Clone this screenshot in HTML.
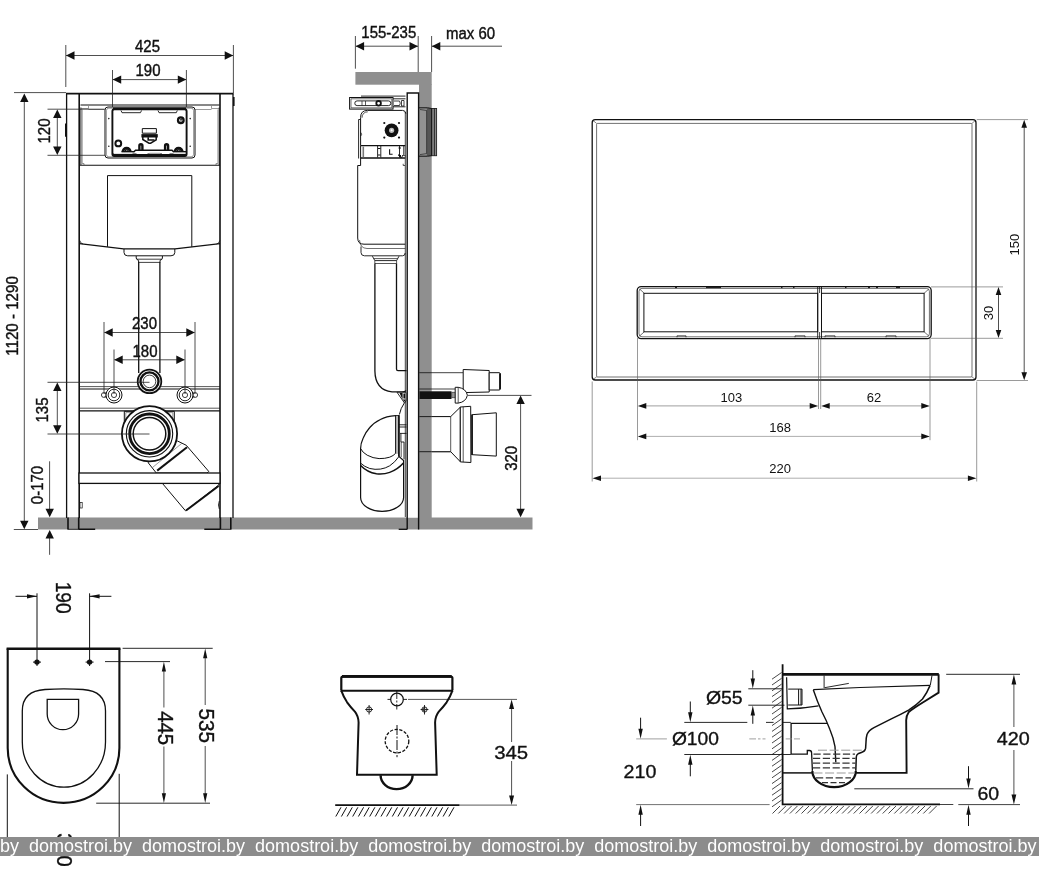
<!DOCTYPE html>
<html>
<head>
<meta charset="utf-8">
<title>Installation drawing</title>
<style>
html,body{margin:0;padding:0;background:#fff;overflow:hidden;}
body{width:1039px;height:869px;position:relative;font-family:"Liberation Sans",sans-serif;}
svg{position:absolute;left:0;top:0;display:block;filter:grayscale(1);}
text{font-family:"Liberation Sans",sans-serif;fill:#111;}
.t15{font-size:15.6px;stroke:#111;stroke-width:0.4px;}
.t13{font-size:13px;}
.bt text{stroke:#111;stroke-width:0.35px;}
.t20{font-size:20px;}
.k{stroke:#111;fill:none;}
.kw{stroke:#111;fill:#fff;}
.thin{stroke:#555;stroke-width:0.6;fill:none;}
.dim{stroke:#222;stroke-width:0.8;fill:none;}
.ar{fill:#111;stroke:none;}
#wm{filter:grayscale(1);position:absolute;left:0;top:837px;width:1039px;height:18.7px;background:#8c8c8c;overflow:hidden;white-space:nowrap;}
#wm span{position:absolute;top:-1.5px;left:0;color:#fff;font-size:18px;line-height:20px;}
</style>
</head>
<body>
<svg width="1039" height="869" viewBox="0 0 1039 869">
<!-- ===================== FRONT VIEW OF FRAME ===================== -->
<g id="front">
  <!-- floor -->
  <rect x="38" y="517.5" width="494.5" height="12" fill="#8f8f8f"/>
  <!-- legs inside floor -->
  <rect x="68" y="517.5" width="10.7" height="12" fill="#929292"/>
  <rect x="220.4" y="517.5" width="10.4" height="12" fill="#929292"/>
  <!-- frame legs -->
  <path class="k" stroke-width="1.3" d="M66.6 93.5V518M233 93.5V518"/>
  <path class="k" stroke-width="1.6" d="M68 517.5V529.3M230.8 517.5V529.3"/>
  <path class="k" stroke-width="1.6" d="M79.2 93.5V518M220 93.5V518M78.7 517.5V529.3M220.4 517.5V529.3"/>
  <path class="k" stroke-width="1.6" d="M66 93.6H233.5"/>
  <!-- feet -->
  <path class="k" stroke-width="1.6" d="M78.7 529.2H95.2M204.3 529.2H220.4"/><path class="k" stroke-width="0.8" d="M220.4 529.3H231.4M67.5 529.3H79"/>
  <!-- cistern upper box -->
  <path class="k" stroke-width="1" d="M80.5 105H219.5"/>
  <path class="k" stroke-width="0.9" d="M80.9 107.5V165M219.2 107.5V165"/>
  <path class="thin" d="M82.2 109.5V163.5H84V165M217.9 109.5V163.5H216V165"/>
  <path class="k" stroke-width="1.1" d="M79.5 165.2H220"/>
  <path class="thin" d="M81 108.5H88.5V106M219 108.5H211.5V106M88.5 109.5H104M211.5 109.5H195"/>
  <!-- control box -->
  <rect class="k" stroke-width="1" x="105" y="107" width="90" height="51" rx="3"/>
  <rect class="thin" x="106.4" y="108.2" width="87.2" height="48.6" rx="2.5"/>
  <rect class="k" stroke-width="1.9" x="112.4" y="109.2" width="74.2" height="46.8" rx="2"/>
  <path class="k" stroke-width="2.6" d="M113 154.9H186"/>
  <path class="k" stroke-width="2" d="M113 108.6H186"/>
  <!-- top slots -->
  <path class="k" stroke-width="0.9" d="M121 110.5L122 112.7H140.5L141.5 110.5M158 110.5L159 112.7H176.3L177.3 110.5"/>
  <!-- circles -->
  <circle class="k" stroke-width="2.3" cx="180.8" cy="120.2" r="2.8"/>
  <path class="k" stroke-width="0.9" d="M180.2 119.2H182M181 119V121.4"/>
  <circle class="k" stroke-width="2" cx="118.3" cy="143.4" r="2.9"/>
  <path class="k" stroke-width="2.8" d="M122.9 151.8A3.7 3.7 0 0 1 130.3 151.8M174.9 151.8A3.7 3.7 0 0 1 182.3 151.8"/>
  <path class="k" stroke-width="1.2" d="M125.2 152A1.6 1.6 0 0 1 128.4 151M177.2 152A1.6 1.6 0 0 1 180.4 151"/>
  <!-- pegs -->
  <path class="k" stroke-width="2.4" d="M139.4 150.8V145.8A1.5 1.5 0 0 1 142.4 145.8V150.8M165.1 150.8V145.8A1.5 1.5 0 0 1 168.1 145.8V150.8"/>
  <!-- bottom details -->
  <path class="k" stroke-width="1.4" d="M121.5 151.7H134L135.5 150.2H172L173.5 151.7H186"/>
  <path d="M136.5 152.7H147.5V154H136.5zM162 152.7H169.5V154H162zM114 152.8H132.5V153.8H114zM173.5 152.8H185.5V153.8H173.5z" fill="#fff"/>
  <path d="M149.5 152.7H160V154H149.5z" fill="#aaa"/>
  <!-- centre piece -->
  <path class="k" stroke-width="1" d="M142.3 128.6H156.4V133.2H142.3z"/>
  <path class="k" stroke-width="3.4" d="M141.4 135.8H157.8"/>
  <path class="k" stroke-width="1.5" d="M142.8 137V139.5L149 143.2H150.6L156.2 139.8V137"/>
  <path class="k" stroke-width="1.6" d="M148.2 137.2V140H154.5"/>
  <!-- side dots -->
  <circle cx="108.8" cy="118.6" r="0.8" fill="#222"/><circle cx="108.8" cy="146.2" r="0.8" fill="#222"/>
  <circle cx="190.2" cy="118.6" r="0.8" fill="#222"/><circle cx="190.2" cy="146.2" r="0.8" fill="#222"/>
  <!-- tank panel -->
  <path class="k" stroke-width="1" d="M107.5 246.8V175.6H191.8V246.8"/>
  <!-- tank bottom -->
  <path class="k" stroke-width="1.1" d="M79.5 243.6L123.5 248.9H175L220 243.6"/>
  <path class="k" stroke-width="0.8" d="M79.8 240.5Q80.2 243.4 83 244M219.8 240.5Q219.4 243.4 216.6 244"/>
  <!-- outlet of tank -->
  <path class="k" stroke-width="1" d="M124 249V252.5Q124 255.8 127.7 255.8H171Q174.8 255.8 174.8 252.5V249"/>
  <path class="k" stroke-width="1" d="M136.2 256V258Q136.2 259.6 138.6 260.4V263M162.4 256V258Q162.4 259.6 160 260.4V263"/>
  <path class="k" stroke-width="0.8" d="M137 259.2H161.6M138.6 262.4H160"/>
  <!-- pipe -->
  <path class="k" stroke-width="1.3" d="M138.7 262.5V373M159.9 262.5V373"/>
  <!-- cross bars -->
  <path class="k" stroke-width="0.7" d="M79.5 386.6H220"/>
  <path class="k" stroke-width="1.2" d="M79.5 389H220"/>
  <path class="k" stroke-width="0.7" d="M79.5 408.2H220"/>
  <path class="k" stroke-width="1.2" d="M79.5 410.8H220"/>
  <!-- inlet circle -->
  <circle cx="149.5" cy="381.4" r="11.8" class="kw" stroke-width="1.8"/>
  <circle cx="149.5" cy="381.4" r="9" class="k" stroke-width="2.4"/>
  <circle cx="149.5" cy="381.4" r="6.3" class="k" stroke-width="0.8"/>
  <!-- bolts -->
  <g id="bolt">
    <circle cx="103.8" cy="395" r="2.4" class="kw" stroke-width="0.8"/>
    <path class="k" stroke-width="0.8" d="M104.5 393H108M104.5 397H108"/>
    <circle cx="114" cy="395" r="8" class="kw" stroke-width="1"/>
    <circle cx="114" cy="395" r="5.8" class="k" stroke-width="0.9"/>
    <circle cx="114" cy="395" r="2.6" class="k" stroke-width="0.8"/>
  </g>
  <g>
    <circle cx="195.2" cy="395" r="2.4" class="kw" stroke-width="0.8"/>
    <path class="k" stroke-width="0.8" d="M194.5 393H191M194.5 397H191"/>
    <circle cx="185" cy="395" r="8" class="kw" stroke-width="1"/>
    <circle cx="185" cy="395" r="5.8" class="k" stroke-width="0.9"/>
    <circle cx="185" cy="395" r="2.6" class="k" stroke-width="0.8"/>
  </g>
  <!-- bracket behind drain -->
  <path class="k" stroke-width="1" d="M124.3 430V411.3H174.3V430"/>
  <path class="thin" d="M125.8 425V412.6H172.8V425"/>
  <!-- drain elbow (diagonal) -->
  <path class="kw" stroke-width="1" d="M177.5 441L186.3 445.3L208.8 471.5L207 473H156.3L148 462.5z"/>
  <path class="k" stroke-width="2" d="M187 447.2L157.2 470.6"/><path class="thin" d="M182 443.2L152.5 467.5"/>
  <path class="kw" stroke-width="1" d="M162.5 483.5L185.5 510.8L218.8 485V483.5z"/>
  <path class="k" stroke-width="1.9" d="M186 510.6L218.6 486"/>
  <!-- lower cross bar -->
  <rect x="79" y="473" width="141" height="10.4" class="kw" stroke-width="1.3"/>
  <!-- drain circle -->
  <circle cx="149.5" cy="433.8" r="27.6" class="kw" stroke-width="1.8"/>
  <circle cx="149.5" cy="433.8" r="23.2" class="k" stroke-width="1.1"/>
  <circle cx="149.5" cy="433.8" r="19.8" class="k" stroke-width="2.8"/>
  <circle cx="149.5" cy="433.8" r="16.3" class="k" stroke-width="1.5"/>
  <!-- small leg details -->
  <rect x="80" y="502.5" width="2.2" height="5.5" class="k" stroke-width="0.7"/>
  <path class="k" stroke-width="0.8" d="M219.3 501Q217.5 505 219.3 509"/>
  <path class="k" stroke-width="1.6" d="M233.8 97V106"/>
  <path class="k" stroke-width="1.2" d="M65.6 123.5V136.8"/>
</g>
<!-- dims front -->
<g id="frontdims">
  <path class="dim" d="M65.8 45V87M233.4 45V93M66 55.5H233"/>
  <path class="ar" d="M66 55.5L74.5 51.3V59.7zM233.2 55.5L224.7 51.3V59.7z"/>
  <text class="t15" transform="translate(147.5 51.8) scale(.96 1)" text-anchor="middle">425</text>
  <path class="dim" d="M112.5 70V107M186.4 70V107M113 79.6H186"/>
  <path class="ar" d="M112.7 79.6L121.2 75.4V83.8zM186.3 79.6L177.8 75.4V83.8z"/>
  <text class="t15" transform="translate(148 76.3) scale(.96 1)" text-anchor="middle">190</text>
  <!-- 1120-1290 -->
  <path class="dim" d="M14 92.6H66M13.8 529.5H38M24.3 97V526"/>
  <path class="ar" d="M24.3 93.5L20.1 102H28.5zM24.3 529.3L20.1 520.8H28.5z"/>
  <text class="t15" transform="translate(17.6 316) rotate(-90) scale(.97 1)" text-anchor="middle">1120 - 1290</text>
  <!-- 120 -->
  <path class="dim" d="M47.5 109.2H105M47.5 155.3H105M57.3 112V152"/>
  <path class="ar" d="M57.3 109.4L53.1 117.9H61.5zM57.3 155.1L53.1 146.6H61.5z"/>
  <text class="t15" transform="translate(49.6 131) rotate(-90) scale(.96 1)" text-anchor="middle">120</text>
  <!-- 230 / 180 -->
  <path class="dim" d="M104 322V394M195 322V394M104.5 332.5H194.5"/>
  <path class="ar" d="M104.2 332.5L112.7 328.3V336.7zM194.8 332.5L186.3 328.3V336.7z"/>
  <text class="t15" transform="translate(144.5 328.8) scale(.96 1)" text-anchor="middle">230</text>
  <path class="dim" d="M114 349.5V394M185 349.5V394M114.5 359.8H184.5"/>
  <path class="ar" d="M114.2 359.8L122.7 355.6V364zM184.8 359.8L176.3 355.6V364z"/>
  <text class="t15" transform="translate(145 356.8) scale(.96 1)" text-anchor="middle">180</text>
  <!-- 135 -->
  <path class="dim" d="M47.5 382.3H149.5M47.5 434H149.5M57.3 385V431"/>
  <path class="ar" d="M57.3 382.5L53.1 391H61.5zM57.3 433.8L53.1 425.3H61.5z"/>
  <text class="t15" transform="translate(48.4 410) rotate(-90) scale(.96 1)" text-anchor="middle">135</text>
  <!-- 0-170 -->
  <path class="dim" d="M49.6 461.3V515M49.6 533V554.8"/>
  <path class="ar" d="M49.7 517.3L45.5 508.8H53.9zM49.7 530L45.5 538.5H53.9z"/>
  <text class="t15" transform="translate(42.6 485) rotate(-90) scale(.96 1)" text-anchor="middle">0-170</text>
</g>

<!-- ===================== SIDE VIEW ===================== -->
<g id="side">
  <!-- ceiling + wall -->
  <rect x="355.4" y="72" width="76.3" height="12.7" fill="#8f8f8f"/>
  <rect x="419" y="84" width="12.7" height="434" fill="#8f8f8f"/>
  <!-- flush plate on wall -->
  <rect x="419.3" y="108" width="7.6" height="48" fill="#929292"/>
  <rect x="426.8" y="108.3" width="4.9" height="47.6" fill="#555"/>
  <rect x="431.6" y="108.5" width="5" height="47.2" fill="#888" stroke="#222" stroke-width="0.9"/>
  <path class="k" stroke-width="1" d="M419 107.8H427.5L431.6 108.5M419 156.2H427.5L431.6 155.7"/>
  <path class="k" stroke-width="0.6" d="M420 109.5L426.6 110.5V153.6L420 154.6"/>
  <path class="k" stroke-width="0.8" d="M431.7 108.5V155.7M434.4 108.5V155.7"/>
  <!-- frame profile -->
  <rect x="407" y="93" width="11.7" height="424.5" fill="#fff"/>
  <path class="k" stroke-width="1.4" d="M407.2 92.9V529.4M418.6 92.9V529.4M406.5 93H419.3"/>
  <path class="k" stroke-width="0.8" d="M405.3 112V517"/>
  <!-- top bracket -->
  <path class="k" stroke-width="0.9" d="M361 96.1H405.5"/>
  <rect class="kw" stroke-width="1" x="349.6" y="97.5" width="43.4" height="11.6"/>
  <path class="k" stroke-width="0.6" d="M351 98.8H391.8V107.8H351z"/>
  <rect class="k" stroke-width="0.9" x="354.8" y="100.9" width="36" height="4.7" rx="2.3"/>
  <path class="k" stroke-width="0.7" d="M362 101V105.5M365.5 101V105.5"/>
  <circle cx="378.6" cy="103.3" r="2.3" class="kw" stroke-width="1.8"/>
  <path class="k" stroke-width="0.9" d="M393 98.8H405.5M393 106.8H405.5"/>
  <path class="k" stroke-width="0.8" d="M394 101H399.5Q401 103.2 399.5 105.5H394M401.5 100.5H404V106H401.5z"/>
  <!-- cistern upper body -->
  <path class="k" stroke-width="1" d="M360.6 145.6V117.5Q360.6 110.4 367.5 110.4H402.5Q405.5 110.4 405.8 113.6"/>
  <path class="k" stroke-width="0.7" d="M362 117.8Q362.3 112 367.8 111.8"/>
  <path class="k" stroke-width="0.9" d="M360.6 119.5H358.6V158.5"/>
  <path class="k" stroke-width="0.7" d="M360.8 132.5Q362.6 134.2 360.8 136"/>
  <!-- flange -->
  <circle cx="391.6" cy="130.3" r="6.9" fill="#111"/>
  <circle cx="391.6" cy="130.3" r="2.6" fill="#bbb"/>
  <circle cx="391.6" cy="130.3" r="1" fill="#fff"/>
  <g fill="#111"><circle cx="384.3" cy="123" r="1.1"/><circle cx="399" cy="123" r="1.1"/><circle cx="384.3" cy="137.6" r="1.1"/><circle cx="399" cy="137.6" r="1.1"/></g>
  <!-- lower section -->
  <path class="k" stroke-width="1.4" d="M360.6 145.6H405.2M360.6 158H405.2"/>
  <path class="k" stroke-width="1" d="M360.6 145.6V165.5"/>
  <path stroke="#777" stroke-width="1.6" d="M363.3 146.5V157.2" fill="none"/>
  <path class="k" stroke-width="0.9" d="M377.6 146V157.5M380.8 146V157.5M399.5 146V157.5M403.8 146V157.5"/>
  <path class="k" stroke-width="1.1" d="M378 148.5H380.5M378 155H380.5M398.5 148H401M398.5 155.5H401"/>
  <path d="M389.6 149.2V154.2H392.6" class="k" stroke-width="1.1"/>
  <path d="M398.5 154.5L401.5 157.8" class="k" stroke-width="1.3"/>
  <rect x="402.3" y="155.4" width="2.8" height="2.2" class="kw" stroke-width="0.6"/>
  <!-- tank body -->
  <path class="k" stroke-width="1" d="M360.6 165.5H357.7V238Q357.7 244.2 364 244.2H405.2"/>
  <path class="k" stroke-width="0.7" d="M403.2 163.8V165.5H405"/>
  <path class="k" stroke-width="0.6" d="M359.5 240Q360 248.3 367 248.5H405.2"/>
  <path class="k" stroke-width="0.9" d="M361 246.5V252.5Q361 255.8 364.5 255.8H402.5Q405.2 255.8 405.2 253"/>
  <!-- neck -->
  <path class="k" stroke-width="0.9" d="M372.4 256.2L374.8 260.6H396.6L399 256.2"/>
  <path class="k" stroke-width="0.7" d="M373.8 258.6H397.6M374.8 260.6V263.5H396.6V260.6"/>
  <!-- pipe -->
  <path class="k" stroke-width="1.3" d="M374.9 263.5V371Q375.2 390 392 391.9H402Q405.5 391.9 406 390.5"/>
  <path class="k" stroke-width="1.3" d="M396.5 263.5V369Q396.5 370.6 398 370.6H406.5"/>
  <!-- connectors between pipe and elbow -->
  <path d="M397 392.3L404.5 403L406 401V392.3z" class="kw" stroke-width="0.9"/>
  <path d="M399.5 393L402.6 393V399.5zM403.4 393.5H405.2V398.5H403.4z" fill="#111"/>
  <path d="M402.5 399.5L405.5 402.5V399.5z" fill="#111"/>
  <path class="k" stroke-width="1" d="M404.3 403Q400.5 408.5 399.4 414.5"/>
  <!-- elbow -->
  <path class="kw" stroke-width="1.2" d="M395.6 415.6Q386 416.3 380.4 419.5Q373.5 423 369.8 427.5Q365 433 363.2 438Q360.6 443.5 360.6 448.6V497.6A21.5 13.8 0 0 0 403.6 497.6V460.5L399 456.5V415.6z"/>
  <path class="k" stroke-width="1" d="M360.6 448.6Q362.5 452.5 367.2 455.2Q373 458.3 379.1 458.6Q385 458.7 389.7 457.2Q393.5 455.8 395.6 453.3"/>
  <path class="k" stroke-width="1" d="M360.6 463.2Q364.5 466.8 369.8 468.5Q375 469.8 380.4 469.1Q385.5 468.3 389.7 465.8Q395 462.3 398.9 456.6"/>
  <path class="k" stroke-width="1.5" d="M360.6 465.4Q367 472 376.4 473.8Q383.5 474.6 389.7 472.4Q397.5 469.6 403.4 463"/>
  <rect x="395.8" y="415.8" width="2.6" height="38" fill="#bbb"/>
  <path class="k" stroke-width="1" d="M395.6 415.6V453.5"/>
  <path class="k" stroke-width="1.5" d="M398.8 415.6V456.5"/>
  <path class="k" stroke-width="0.9" d="M399 424.8H406.5M399 427H406.5M400 433.4H406.5M400.9 433.4V442M400.9 442H404V459.2"/>
  <path class="k" stroke-width="0.7" d="M401.2 442V457"/>
  <!-- water inlet pipe -->
  <path class="k" stroke-width="0.8" d="M419.3 372.7H463.2M419.3 389H455"/>
  <path class="kw" stroke-width="1" d="M463.2 369.5L489.2 370.5V392L463.2 392.6z"/>
  <path class="kw" stroke-width="1" d="M489.2 372.7H499Q500.3 372.7 500.3 374V388.7Q500.3 390 499 390H489.2z"/>
  <path class="k" stroke-width="1.8" d="M500 373.5V389.2"/>
  <!-- bolt -->
  <rect x="419.5" y="391.3" width="32" height="7.7" fill="#111"/>
  <rect x="451.8" y="392.2" width="3.6" height="5.6" fill="#999" stroke="#222" stroke-width="0.6"/>
  <path class="kw" stroke-width="1" d="M455.2 387.3H458.2Q466 388.5 467.4 395.2Q466 402 458.2 403.1H455.2z"/>
  <path class="k" stroke-width="0.7" d="M458.2 387.3V403.1"/>
  <!-- drain pipe -->
  <path class="k" stroke-width="0.9" d="M419.3 416.6H450.7M419.3 451.7H450.7"/>
  <path class="kw" stroke-width="1" d="M431.9 416.6H450.7L460.3 407.2V461.7L450.7 451.7H431.9"/>
  <path class="kw" stroke-width="1" d="M460.3 407L470.7 406.3L470.9 462.5L460.3 461.9z"/>
  <path class="k" stroke-width="0.7" d="M450.7 416.6V451.7M463.2 406.8V462.1"/>
  <path class="kw" stroke-width="1" d="M472.2 414.7L496.3 412.8V456.1L472.2 454.7z"/>
  <path class="k" stroke-width="1.6" d="M472 414.5V455"/>
  <!-- floor (side) -->
  <path class="k" stroke-width="1.3" d="M398.7 529.3H407"/>
</g>
<g id="sidedims">
  <path class="dim" d="M355.4 36V68.7M418.2 36V72M431.6 36V72M356 46.2H418M432 46.2H502"/>
  <path class="ar" d="M355.6 46.2L364.1 42V50.4zM418 46.2L409.5 42V50.4zM431.8 46.2L440.3 42V50.4z"/>
  <text class="t15" transform="translate(388.8 38.3) scale(.96 1)" text-anchor="middle">155-235</text>
  <text class="t15" transform="translate(446 38.6) scale(.96 1)">max 60</text>
  <path class="dim" d="M468 395.4H531.5M520.6 399V514"/>
  <path class="ar" d="M520.6 395.6L516.4 404.1H524.8zM520.6 517.3L516.4 508.8H524.8z"/>
  <text class="t15" transform="translate(517.1 458.3) rotate(-90) scale(.96 1)" text-anchor="middle">320</text>
</g>

<!-- ===================== FLUSH PLATE ===================== -->
<g id="plate">
  <rect class="k" stroke-width="1.3" x="592.2" y="119.7" width="383.8" height="260.3" rx="3"/>
  <rect class="k" stroke-width="0.6" x="596.6" y="123.4" width="375.4" height="253.6" rx="1"/>
  <path class="k" stroke-width="0.5" d="M593 120.5L596.6 123.4M975.3 120.5L972 123.4M593 379.3L596.6 377M975.3 379.3L972 377"/>
  <!-- buttons -->
  <rect class="k" stroke-width="1.3" x="637.2" y="286.6" width="294" height="52" rx="4"/>
  <rect class="k" stroke-width="0.6" x="639" y="288.4" width="290.4" height="48.4" rx="3"/>
  <rect class="k" stroke-width="1" x="643.9" y="293.3" width="173.8" height="38.5"/>
  <rect class="k" stroke-width="1" x="821.5" y="293.3" width="102.6" height="38.5"/>
  <path class="k" stroke-width="0.6" d="M639.8 289.2L644.3 293.3M639.8 335.8L644.3 331.8M928.6 289.2L924.1 293.3M928.6 335.8L924.1 331.8"/>
  <path class="k" stroke-width="0.9" d="M817.7 287V338M821.5 287V338"/>
  <path class="k" stroke-width="0.8" d="M819.6 286.9V293M819.6 332V338"/>
  <!-- tiny ticks on rim -->
  <path class="k" stroke-width="1" d="M675 287.6H677M706 287.6H721M781 287.6H782.5M793 287.6H794.5M845 287.6H846.5M868 287.6H870M876 287.6H878M896 287.6H900"/>
  <path class="k" stroke-width="0.7" d="M677 337.3V335.8H686V337.3M795 337.3V335.8H805V337.3M825 337.3V335.8H835V337.3M886 337.3V335.8H896V337.3"/>
</g>
<g id="platedims" class="t13">
  <!-- 150 -->
  <path class="thin" d="M976.7 119.6H1028M976.7 380.5H1028"/>
  <path class="dim" d="M1024.2 124V376"/>
  <path class="ar" d="M1024.2 119.8L1021.4 127.8H1027zM1024.2 380.2L1021.4 372.2H1027z"/>
  <text transform="translate(1018.8 244.6) rotate(-90)" text-anchor="middle">150</text>
  <!-- 30 -->
  <path class="thin" d="M931 286.9H1003M931 338.3H1003"/>
  <path class="dim" d="M998.5 291V334"/>
  <path class="ar" d="M998.5 287.1L995.7 295.1H1001.3zM998.5 338.1L995.7 330.1H1001.3z"/>
  <text transform="translate(993.3 313) rotate(-90)" text-anchor="middle">30</text>
  <!-- 103 / 62 -->
  <path class="thin" d="M637.5 338V440.2M818.5 338V409M820.7 338V409M930 338V440.2"/>
  <path stroke="#888" stroke-width="0.8" fill="none" d="M641 405.9H815M825 405.9H926"/>
  <path class="ar" d="M637.8 405.9L646.3 403.1V408.7zM818.2 405.9L809.7 403.1V408.7zM821.2 405.9L829.7 403.1V408.7zM929.8 405.9L921.3 403.1V408.7z"/>
  <text x="731.4" y="401.9" text-anchor="middle">103</text>
  <text x="874.1" y="401.9" text-anchor="middle">62</text>
  <!-- 168 -->
  <path stroke="#999" stroke-width="0.8" fill="none" d="M641 436.4H926"/>
  <path class="ar" d="M637.8 436.4L646.3 433.6V439.2zM929.8 436.4L921.3 433.6V439.2z"/>
  <text x="780.2" y="432.2" text-anchor="middle">168</text>
  <!-- 220 -->
  <path class="thin" d="M592.2 381.5V481.5M976.7 381.5V481.5"/>
  <path stroke="#999" stroke-width="0.8" fill="none" d="M596 478.2H973"/>
  <path class="ar" d="M592.5 478.2L601 475.4V481zM976.4 478.2L967.9 475.4V481z"/>
  <text x="780.2" y="473.2" text-anchor="middle">220</text>
</g>

<!-- ===================== TOILET TOP VIEW ===================== -->
<g id="topview" class="bt">
  <path class="k" stroke-width="2.4" d="M6.6 648.7H120.4"/>
  <path class="k" stroke-width="2.1" d="M7.7 648.6V748A55.8 54.8 0 0 0 119.4 748V648.6"/>
  <path class="k" stroke-width="1.3" d="M22.3 742V711Q22.3 691 45 689.5Q63.9 688.3 83 689.5Q105.5 691 105.5 711V742A41.6 45.2 0 0 1 22.3 742z"/>
  <path class="k" stroke-width="1.3" d="M47.2 699.3H78.6V714A15.7 15.7 0 0 1 47.2 714z"/>
  <!-- bolt holes -->
  <path class="k" stroke-width="1" d="M37 593.3V666M89.6 593.3V666M33 662.1H41M85.6 662.1H93.6"/>
  <circle cx="37" cy="662.1" r="2.7" fill="#111"/><circle cx="89.6" cy="662.1" r="2.7" fill="#111"/>
  <!-- 190 -->
  <path class="k" stroke-width="1" d="M15.5 596.3H37M89.6 596.3H111.4"/>
  <path class="ar" d="M37 596.3L27 594.2V598.4zM89.6 596.3L99.6 594.2V598.4z"/>
  <text transform="translate(56.1 597.7) rotate(90)" text-anchor="middle" font-size="21.5" textLength="32" lengthAdjust="spacingAndGlyphs">190</text>
  <!-- bottom width lines + 360 -->
  <path class="k" stroke-width="1" d="M7.3 774.4V837M119.2 773.8V837"/>
  <text transform="translate(56.8 850) rotate(90)" text-anchor="middle" font-size="21.5" textLength="33.5" lengthAdjust="spacingAndGlyphs">360</text>
  <!-- 445 -->
  <path class="k" stroke-width="0.9" d="M105 661.6H170M96.2 803.2H210"/>
  <path class="dim" d="M163.9 668V707.5M163.9 746.5V797"/>
  <path class="ar" d="M163.9 661.8L161.8 671.5H166zM163.9 803L161.8 793.3H166z"/>
  <text transform="translate(158.4 728.2) rotate(90)" text-anchor="middle" font-size="21.5" textLength="34" lengthAdjust="spacingAndGlyphs">445</text>
  <!-- 535 -->
  <path class="k" stroke-width="0.9" d="M122.6 648.3H212.7"/>
  <path class="dim" d="M205.2 655V705M205.2 746V797"/>
  <path class="ar" d="M205.2 648.5L203.1 658.2H207.3zM205.2 803L203.1 793.3H207.3z"/>
  <text transform="translate(198.9 725.8) rotate(90)" text-anchor="middle" font-size="21.5" textLength="34.7" lengthAdjust="spacingAndGlyphs">535</text>
</g>
<!-- ===================== TOILET FRONT VIEW ===================== -->
<g id="frontview" class="bt">
  <path class="k" stroke-width="2.2" d="M341.3 690V678Q341.3 676.6 343 676.6H450.7Q452.4 676.6 452.4 678V690"/>
  <path class="k" stroke-width="2.8" d="M342 676.4H451.7"/>
  <path class="k" stroke-width="2.1" d="M340.5 690.7H453.2"/>
  <path class="k" stroke-width="2" d="M341.3 690.7Q343.5 697 347.1 702.3Q350.5 707 354.9 711.6Q358.4 716 358.6 722.5L357 774.8H436.7L435.1 722.5Q435.3 716 438.8 711.6Q443.2 707 446.6 702.3Q450.2 697 452.4 690.7"/>
  <path class="k" stroke-width="2.4" d="M380.6 775.3A16 13.8 0 0 0 412.6 775.3"/>
  <!-- top circle -->
  <circle class="k" stroke-width="1.2" cx="397" cy="699.5" r="6.3"/>
  <path class="k" stroke-width="0.9" d="M396.8 690V709.5" stroke-dasharray="9 1.5 2 1.5"/>
  <path class="k" stroke-width="0.9" d="M387.5 699.4H391M403 699.4H407"/>
  <!-- bolt holes -->
  <g class="k" stroke-width="0.9"><circle cx="369.1" cy="709.5" r="2.6"/><path d="M369.1 705V714.5M365.2 709.5H373"/><circle cx="424.5" cy="709.5" r="2.6"/><path d="M424.5 705V714.5M420.6 709.5H428.4"/></g>
  <circle cx="424" cy="709.5" r="1.6" fill="#333"/>
  <!-- big dashed circle -->
  <circle class="k" stroke-width="1.3" cx="397" cy="741.1" r="11.8" stroke-dasharray="3.2 1.6"/>
  <path class="k" stroke-width="1" d="M397 725V757.2" stroke-dasharray="10 1.5 2 1.5"/>
  <!-- floor -->
  <path class="k" stroke-width="1.6" d="M335.2 805.1H459.5"/>
  <path class="k" stroke-width="1" d="M341.0 807.3l-5.2 9.2M346.6 807.3l-5.2 9.2M352.3 807.3l-5.2 9.2M357.9 807.3l-5.2 9.2M363.6 807.3l-5.2 9.2M369.2 807.3l-5.2 9.2M374.9 807.3l-5.2 9.2M380.5 807.3l-5.2 9.2M386.2 807.3l-5.2 9.2M391.8 807.3l-5.2 9.2M397.5 807.3l-5.2 9.2M403.1 807.3l-5.2 9.2M408.8 807.3l-5.2 9.2M414.4 807.3l-5.2 9.2M420.1 807.3l-5.2 9.2M425.7 807.3l-5.2 9.2M431.4 807.3l-5.2 9.2M437.0 807.3l-5.2 9.2M442.7 807.3l-5.2 9.2M448.3 807.3l-5.2 9.2M454.0 807.3l-5.2 9.2"/>
  <!-- 345 -->
  <path class="k" stroke-width="0.7" d="M408 699.4H517M459.5 805.1H517"/>
  <path class="dim" d="M511.6 706V742M511.6 761V799"/>
  <path class="ar" d="M511.6 699.6L509.1 709H514.1zM511.6 804.9L509.1 795.5H514.1z"/>
  <text x="494.2" y="758.6" font-size="19.2" textLength="34" lengthAdjust="spacingAndGlyphs">345</text>
</g>
<!-- ===================== TOILET SECTION VIEW ===================== -->
<g id="section" class="bt">
  <!-- wall + floor -->
  <path class="k" stroke-width="1.8" d="M782.6 664.2V804.4H940"/>
  <path class="k" stroke-width="0.8" d="M940 804.5H953.3M958.3 804.6H1020"/>
  <path stroke="#333" fill="none" stroke-width="0.9" d="M781.6 672.5l-9.6 6.7M781.6 678.3l-9.6 6.7M781.6 684.1l-9.6 6.7M781.6 689.9l-9.6 6.7M781.6 695.7l-9.6 6.7M781.6 701.5l-9.6 6.7M781.6 707.3l-9.6 6.7M781.6 713.1l-9.6 6.7M781.6 718.9l-9.6 6.7M781.6 724.7l-9.6 6.7M781.6 730.5l-9.6 6.7M781.6 736.3l-9.6 6.7M781.6 742.1l-9.6 6.7M781.6 747.9l-9.6 6.7M781.6 753.7l-9.6 6.7M781.6 759.5l-9.6 6.7M781.6 765.3l-9.6 6.7M781.6 771.1l-9.6 6.7M781.6 776.9l-9.6 6.7M781.6 782.7l-9.6 6.7M781.6 788.5l-9.6 6.7M781.6 794.3l-9.6 6.7M781.6 800.1l-9.6 6.7"/>
  <path stroke="#333" fill="none" stroke-width="0.9" d="M780.0 806.0l-7.5 7.5M785.8 806.0l-7.5 7.5M791.6 806.0l-7.5 7.5M797.4 806.0l-7.5 7.5M803.2 806.0l-7.5 7.5M809.0 806.0l-7.5 7.5M814.8 806.0l-7.5 7.5M820.6 806.0l-7.5 7.5M826.4 806.0l-7.5 7.5M832.2 806.0l-7.5 7.5M838.0 806.0l-7.5 7.5M843.8 806.0l-7.5 7.5M849.6 806.0l-7.5 7.5M855.4 806.0l-7.5 7.5M861.2 806.0l-7.5 7.5M867.0 806.0l-7.5 7.5M872.8 806.0l-7.5 7.5M878.6 806.0l-7.5 7.5M884.4 806.0l-7.5 7.5M890.2 806.0l-7.5 7.5M896.0 806.0l-7.5 7.5M901.8 806.0l-7.5 7.5M907.6 806.0l-7.5 7.5M913.4 806.0l-7.5 7.5M919.2 806.0l-7.5 7.5M925.0 806.0l-7.5 7.5M930.8 806.0l-7.5 7.5M936.6 806.0l-7.5 7.5"/>
  <!-- outer body -->
  <path class="k" stroke-width="2.8" d="M782.6 674.3H938.8"/>
  <path class="k" stroke-width="1.9" d="M938.6 674.3V692.6L926 700.5Q913 708.5 908.8 712Q906 716 906.2 721L906.6 772.9H855.5"/>
  <path class="k" stroke-width="1.5" d="M782.6 772.9H813"/>
  <!-- rim inner -->
  <path class="k" stroke-width="1" d="M932 675.5L930.3 685.2"/>
  <path class="k" stroke-width="1.2" d="M930.3 685.4L860 687.5L813.3 689.6"/>
  <path class="k" stroke-width="0.9" d="M824.6 687.7L848.8 683.4M824.1 675.5V688"/>
  <!-- bowl front interior -->
  <path class="k" stroke-width="1.5" d="M930 685.6Q927 693 922.5 699Q916 705.5 908.6 710.2Q900 715 891.3 718.9L874 727.6Q868.5 730.5 867 734.5Q866 738 866 742L865.6 748.4Q865 751.5 862 752.2L858 753.8Q856.4 754.6 856.3 757L855.8 770.9"/>
  <!-- trap bottom -->
  <path class="k" stroke-width="2.2" d="M812.4 770.9A21.7 16.3 0 0 0 855.8 770.9"/>
  <path class="k" stroke-width="1.3" d="M812.4 770.9L811.6 753Q811.6 750.6 809.5 750.5H807.3V754.1H791.1V723.3H827.2"/>
  <!-- bowl back wall -->
  <path class="k" stroke-width="1.4" d="M813.3 689.8Q817 701 822 712Q826.5 720.5 829.8 729.3Q833.5 738 835 746.6L835.8 762.2"/>
  <!-- upper-left box -->
  <path class="k" stroke-width="1.2" d="M786.6 677.3L787.3 708.9Q803 708.6 818.5 705.9"/>
  <path class="k" stroke-width="1" d="M788.2 689.1H802V705H788.2M798.6 689.1V705M801 689.1V705"/>
  <!-- water -->
  <path stroke="#333" stroke-width="1.3" fill="none" d="M813.5 754.1H820.7M823.3 754.1H830.5M833.1 754.1H840.3M842.9 754.1H850.1M852.7 754.1H855.0M813.0 758.4H820.2M822.8 758.4H830.0M832.6 758.4H839.8M842.4 758.4H849.6M852.2 758.4H855.5M813.0 763.1H820.2M822.8 763.1H830.0M832.6 763.1H839.8M842.4 763.1H849.6M852.2 763.1H855.5M813.0 767.8H820.2M822.8 767.8H830.0M832.6 767.8H839.8M842.4 767.8H849.6M852.2 767.8H855.5M816.0 777.8H823.2M825.8 777.8H833.0M835.6 777.8H842.8M845.4 777.8H851.0M822.0 782.6H828.0M830.5 782.6H836.5M839.0 782.6H845.0"/>
  <path stroke="#999" stroke-width="1" fill="none" d="M818.0 750.2H827.0M829.6 750.2H838.6M841.2 750.2H850.2M852.8 750.2H861.8M813.5 773H822.5M825.1 773H834.1M836.7 773H845.7M848.3 773H855.0"/>
  <!-- dims Ø55 -->
  <path class="k" stroke-width="0.9" d="M748.3 688.8H782.6M748.3 705.2H784.5"/>
  <path class="k" stroke-width="1" d="M752.8 670.2V682M752.8 712V723.8"/>
  <path class="ar" d="M752.8 688.6L750.6 678.6H755zM752.8 705.4L750.6 715.4H755z"/>
  <text x="705.9" y="704.2" font-size="19.2" textLength="36.8" lengthAdjust="spacingAndGlyphs">Ø55</text>
  <!-- Ø100 -->
  <path class="k" stroke-width="0.9" d="M684.3 722.4H747.3M766 722.4H773.6M782.7 722.4H790.8M684.3 754.5H790.8"/>
  <path class="k" stroke-width="1" d="M690.3 701.5V716M690.3 761V776.3"/>
  <path class="ar" d="M690.3 722.2L688.1 712.2H692.5zM690.3 754.7L688.1 764.7H692.5z"/>
  <text x="671.9" y="745.4" font-size="19.2" textLength="47" lengthAdjust="spacingAndGlyphs">Ø100</text>
  <!-- centre line -->
  <path stroke="#888" stroke-width="0.8" fill="none" d="M636.2 738.9H666.9M749.3 738.9H756M758 738.9H760.5M762.5 738.9H765.5M785.7 738.9H792M794 738.9H800"/>
  <!-- 210 -->
  <path class="k" stroke-width="1" d="M640.6 717.7V732M640.6 811V826"/>
  <path class="ar" d="M640.6 738.7L638.4 728.7H642.8zM640.6 804.8L638.4 814.8H642.8z"/>
  <path class="k" stroke-width="0.6" d="M636.2 804.6H769.6"/>
  <text x="623.6" y="777.7" font-size="19.2" textLength="32.8" lengthAdjust="spacingAndGlyphs">210</text>
  <!-- 60 -->
  <path class="k" stroke-width="0.9" d="M854.3 788.8H973.5"/>
  <path class="k" stroke-width="1" d="M968.5 766.2V782M968.5 811V826"/>
  <path class="ar" d="M968.5 788.6L966.3 778.6H970.7zM968.5 804.8L966.3 814.8H970.7z"/>
  <text x="977.5" y="799.6" font-size="19.2" textLength="21.7" lengthAdjust="spacingAndGlyphs">60</text>
  <!-- 420 -->
  <path class="k" stroke-width="0.9" d="M946.2 674.3H1020"/>
  <path class="dim" d="M1013.9 681V727M1013.9 750V798"/>
  <path class="ar" d="M1013.9 674.5L1011.5 684.5H1016.3zM1013.9 804.4L1011.5 794.4H1016.3z"/>
  <text x="996.7" y="745" font-size="19.2" textLength="33" lengthAdjust="spacingAndGlyphs">420</text>
</g>
</svg>
<div id="wm"><span>by&nbsp; domostroi.by&nbsp; domostroi.by&nbsp; domostroi.by&nbsp; domostroi.by&nbsp; domostroi.by&nbsp; domostroi.by&nbsp; domostroi.by&nbsp; domostroi.by&nbsp; domostroi.by</span></div>
</body>
</html>
